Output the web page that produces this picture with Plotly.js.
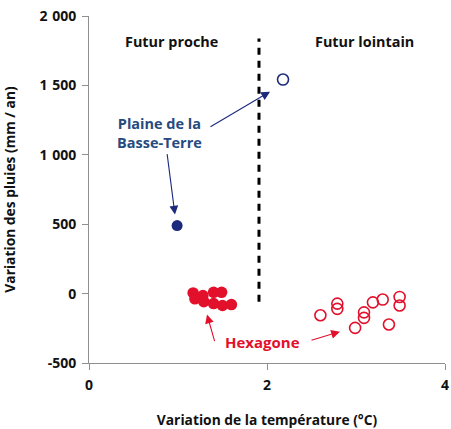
<!DOCTYPE html>
<html>
<head>
<meta charset="utf-8">
<script src="https://cdn.plot.ly/plotly-3.0.1.min.js"></script>
<style>html,body{margin:0;padding:0;background:#fff;}#chart{width:451px;height:429px;}</style>
</head>
<body>
<div id="chart"></div>
<script>
// Plaine de la Basse-Terre
const basseTerreNearX = [0.99];
const basseTerreNearY = [490];
const basseTerreFarX = [2.18];
const basseTerreFarY = [1542];
// Hexagone
const hexNearX = [1.17, 1.19, 1.28, 1.29, 1.40, 1.49, 1.40, 1.50, 1.60];
const hexNearY = [5, -38, -14, -58, 9, 9, -72, -86, -79];
const hexFarX = [2.60, 2.79, 2.79, 2.99, 3.09, 3.09, 3.19, 3.30, 3.37, 3.49, 3.49];
const hexFarY = [-156, -72, -110, -247, -175, -135, -63, -43, -223, -24, -86];
// Axis ticks
const xTickVals = [0, 2, 4];
const xTickText = ['0', '2', '4'];
const yTickVals = [-500, 0, 500, 1000, 1500, 2000];
const yTickText = ['-500', '0', '500', '1\u2004000', '1\u2004500', '2\u2004000'];
// Period separator
const separatorX = 1.91;
const separatorY = [-58, 1837];

const FONT = 'Open Sans, Noto Sans, sans-serif';
const NAVY = '#1c2a7e';
const NAVYTXT = '#264b7f';
const RED = '#e2102b';
const AXIS = '#8f8f8f';

const traces = [
  {x: basseTerreNearX, y: basseTerreNearY, type: 'scatter', mode: 'markers',
   marker: {color: NAVY, size: 11}, showlegend: false, hoverinfo: 'skip'},
  {x: basseTerreFarX, y: basseTerreFarY, type: 'scatter', mode: 'markers',
   marker: {symbol: 'circle-open', color: NAVY, size: 11, line: {width: 1.6}}, showlegend: false, hoverinfo: 'skip'},
  {x: hexNearX, y: hexNearY, type: 'scatter', mode: 'markers',
   marker: {color: RED, size: 11.5}, showlegend: false, hoverinfo: 'skip'},
  {x: hexFarX, y: hexFarY, type: 'scatter', mode: 'markers',
   marker: {symbol: 'circle-open', color: RED, size: 11, line: {width: 1.6}}, showlegend: false, hoverinfo: 'skip'}
];

function arrow(hx, hy, tx, ty, color) {
  return {x: hx, y: hy, ax: tx, ay: ty, xref: 'x', yref: 'y', axref: 'x', ayref: 'y',
    text: '', showarrow: true, arrowhead: 2, arrowsize: 1.6, arrowwidth: 1.1, arrowcolor: color, standoff: 0};
}

const tickFont = {family: FONT, size: 14, color: '#111', weight: 'bold'};
const titleFont = {family: FONT, size: 13.8, color: '#111', weight: 'bold'};

const layout = {
  width: 451, height: 429,
  margin: {l: 89, r: 6, t: 16, b: 66},
  paper_bgcolor: '#ffffff', plot_bgcolor: '#ffffff',
  font: {family: FONT, size: 13, color: '#111111', weight: 'bold'},
  showlegend: false,
  xaxis: {
    range: [0, 4], tickvals: xTickVals, ticktext: xTickText,
    showgrid: false, zeroline: false, showline: true, linecolor: AXIS, linewidth: 1,
    ticks: 'outside', ticklen: 6, tickcolor: AXIS, ticklabelstandoff: 3,
    tickfont: tickFont,
    title: {text: 'Variation de la température (°C)', font: titleFont, standoff: 26}
  },
  yaxis: {
    range: [-500, 2000], tickvals: yTickVals, ticktext: yTickText,
    showgrid: false, zeroline: false, showline: true, linecolor: AXIS, linewidth: 1,
    ticks: 'outside', ticklen: 6, tickcolor: AXIS, ticklabelstandoff: 3,
    tickfont: tickFont,
    title: {text: 'Variation des pluies (mm / an)', font: titleFont, standoff: 22}
  },
  shapes: [
    {type: 'line', xref: 'x', yref: 'y', x0: separatorX, x1: separatorX, y0: separatorY[0], y1: separatorY[1],
     line: {color: '#000', width: 3, dash: '7px,6px'}}
  ],
  annotations: [
    {x: 0.927, y: 1815, xref: 'x', yref: 'y', text: 'Futur proche', showarrow: false,
     font: {family: FONT, size: 14.4, color: '#111', weight: 'bold'}},
    {x: 3.09, y: 1815, xref: 'x', yref: 'y', text: 'Futur lointain', showarrow: false,
     font: {family: FONT, size: 14.4, color: '#111', weight: 'bold'}},
    {x: 0.792, y: 1156, xref: 'x', yref: 'y', text: 'Plaine de la<br>Basse-Terre', showarrow: false,
     font: {family: FONT, size: 14.5, color: NAVYTXT, weight: 'bold'}},
    {x: 1.949, y: -351, xref: 'x', yref: 'y', text: 'Hexagone', showarrow: false,
     font: {family: FONT, size: 15, color: RED, weight: 'bold'}},
    arrow(2.034, 1455, 1.348, 1196, NAVY),
    arrow(0.966, 569, 0.876, 1016, NAVY),
    arrow(1.326, -151, 1.416, -353, RED),
    arrow(2.82, -274, 2.483, -339, RED)
  ]
};

Plotly.newPlot('chart', traces, layout, {staticPlot: true, displayModeBar: false});
</script>
</body>
</html>
